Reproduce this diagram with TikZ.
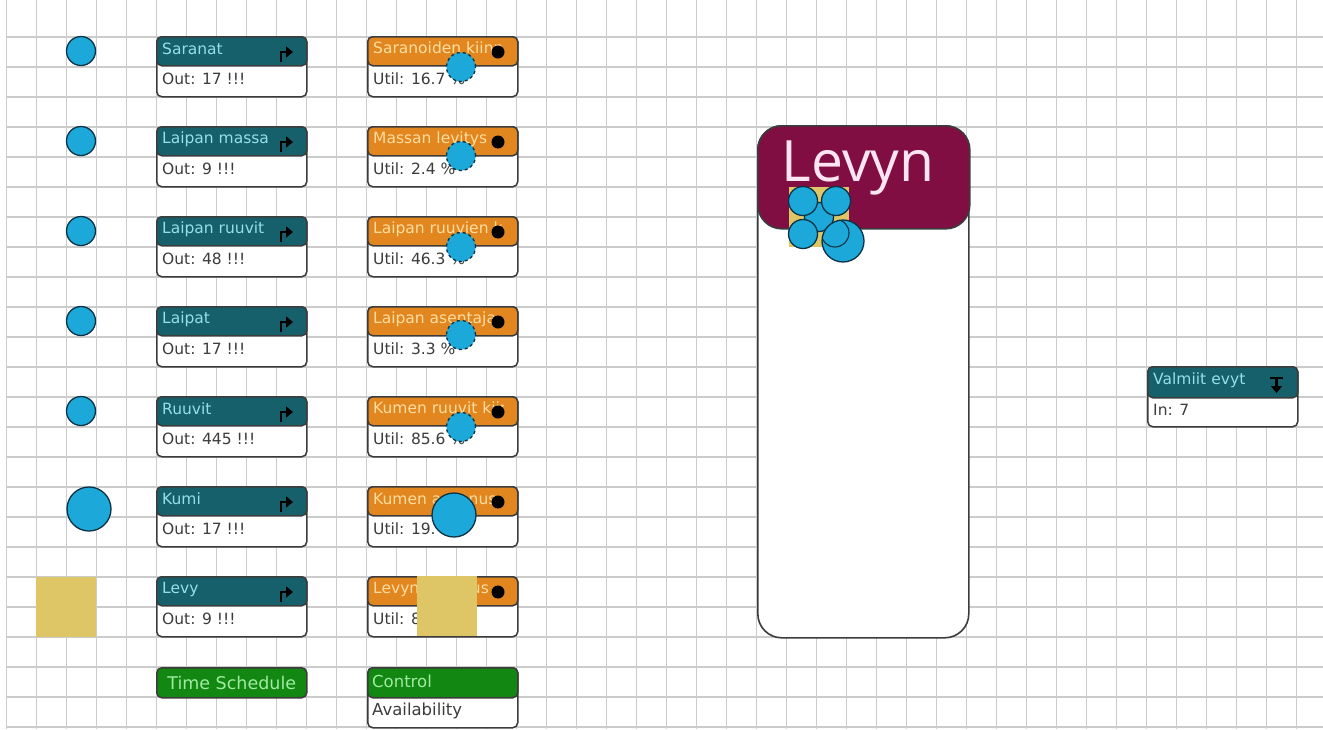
\documentclass[tikz,border=0pt]{standalone}
\usepackage{fontspec}
\setmainfont{DejaVu Sans}
\newfontfamily\bigfont{Open Sans}
\usetikzlibrary{arrows.meta}
\definecolor{gridc}{RGB}{204,204,204}
\definecolor{bordc}{RGB}{60,60,60}
\definecolor{tealc}{RGB}{22,96,108}
\definecolor{tealt}{RGB}{150,222,232}
\definecolor{orangec}{RGB}{226,134,32}
\definecolor{oranget}{RGB}{255,222,160}
\definecolor{greenc}{RGB}{18,136,18}
\definecolor{greent}{RGB}{160,235,160}
\definecolor{maroonc}{RGB}{128,14,66}
\definecolor{levynt}{RGB}{252,228,242}
\definecolor{tanc}{RGB}{222,198,102}
\definecolor{ballc}{RGB}{28,168,216}
\definecolor{balld}{RGB}{12,50,70}
\definecolor{bodyt}{RGB}{60,60,60}
\tikzset{
  gridline/.style={draw=gridc, line width=1.4},
  boxbody/.style={draw=bordc, line width=1.5, fill=white, rounded corners=5,
    minimum width=150, minimum height=60, anchor=north west, inner sep=0},
  hdr/.style={draw=bordc, line width=1.5, rounded corners=5,
    minimum width=150, minimum height=29, anchor=north west, inner sep=0},
  htext/.style={anchor=west, inner sep=0, font=\fontsize{15.5}{17}\selectfont},
  btext/.style={anchor=west, inner sep=0, text=bodyt, font=\fontsize{15.5}{17}\selectfont},
  icon/.style={draw=black, line width=2.8, -{Triangle[length=7,width=11]}},
  blackdot/.style={circle, fill=black, inner sep=0, minimum size=13},
  ball/.style={circle, fill=ballc, draw=balld, line width=1.3, inner sep=0, minimum size=29},
  dball/.style={ball, dashed},
  tansq/.style={fill=tanc, inner sep=0, minimum size=60, anchor=north west},
}
\newcommand\tealbox[5]{%
  \node[boxbody] (#1) at (#2,#3) {};
  \node[hdr, fill=tealc] (#1-h) at (#2,#3) {};
  \node[htext, text=tealt] (#1-t) at (#2+6,#3+13) {#4};
  \node[btext] (#1-b) at (#2+6,#3+43) {#5};
  \draw[icon] (#2+125,#3+26) -- (#2+125,#3+16) -- (#2+137,#3+16);
}
\newcommand\orangebox[5]{%
  \node[boxbody] (#1) at (#2,#3) {};
  \node[hdr, fill=orangec] (#1-h) at (#2,#3) {};
  \begin{scope}
    \clip (#2,#3) rectangle (#2+136,#3+29);
    \node[htext, text=oranget] (#1-t) at (#2+6,#3+13) {#4};
  \end{scope}
  \node[btext] (#1-b) at (#2+6,#3+43) {#5};
  \node[blackdot] (#1-d) at (#2+131,#3+16) {};
}
\begin{document}
\begin{tikzpicture}[x=1pt,y=-1pt]
\useasboundingbox (0,0) rectangle (1323,729);
\fill[white] (0,0) rectangle (1323,729);
% grid
\foreach \i in {0,...,43} \draw[gridline] (6.5+30*\i,0) -- (6.5+30*\i,729);
\foreach \j in {1,...,24} \draw[gridline] (6.5,7+30*\j) -- (1323,7+30*\j);

% left column items
\node[ball] (b1) at (81,51) {};
\node[ball] (b2) at (81,141) {};
\node[ball] (b3) at (81,231) {};
\node[ball] (b4) at (81,321) {};
\node[ball] (b5) at (81,411) {};
\node[ball, minimum size=44] (b6) at (89,509) {};
\node[tansq] (sq1) at (36,577) {};

% teal source boxes
\tealbox{saranat}{156}{36}{Saranat}{Out: 17 !!!}
\tealbox{massa}{156}{126}{Laipan massa}{Out: 9 !!!}
\tealbox{ruuvit1}{156}{216}{Laipan ruuvit}{Out: 48 !!!}
\tealbox{laipat}{156}{306}{Laipat}{Out: 17 !!!}
\tealbox{ruuvit}{156}{396}{Ruuvit}{Out: 445 !!!}
\tealbox{kumi}{156}{486}{Kumi}{Out: 17 !!!}
\tealbox{levy}{156}{576}{Levy}{Out: 9 !!!}

% time schedule
\node[hdr, fill=greenc, minimum height=30] (ts) at (156,667) {};
\node[anchor=center, inner sep=0, text=greent, font=\fontsize{17.5}{19}\selectfont] (ts-t) at (ts.center) {Time Schedule};

% orange activity boxes
\orangebox{o1}{367}{36}{Saranoiden kiinnitys}{Util: 16.7 \%}
\orangebox{o2}{367}{126}{Massan levitys}{Util: 2.4 \%}
\orangebox{o3}{367}{216}{Laipan ruuvien kiinnitys}{Util: 46.3 \%}
\orangebox{o4}{367}{306}{Laipan asentaja}{Util: 3.3 \%}
\orangebox{o5}{367}{396}{Kumen ruuvit kiinnitys}{Util: 85.6 \%}
\orangebox{o6}{367}{486}{Kumen asennus}{Util: 19.}
\orangebox{o7}{367}{576}{Levyn asennus}{Util: 8}

\node[dball] (c1) at (461,67) {};
\node[dball] (c2) at (461,156) {};
\node[dball] (c3) at (461,247) {};
\node[dball] (c4) at (461,335) {};
\node[dball] (c5) at (461,427) {};
\node[ball, minimum size=44] (c6) at (454,515) {};
\node[tansq] (sq2) at (417,576) {};

% control
\node[boxbody] (ctrl) at (367,667) {};
\node[hdr, fill=greenc, minimum height=30] (ctrl-h) at (367,667) {};
\node[htext, text=greent, font=\fontsize{16.5}{18}\selectfont] (ctrl-t) at (372,681) {Control};
\node[btext, font=\fontsize{16.5}{18}\selectfont] (ctrl-b) at (372,711) {Availability};

% Levyn big box
\node[draw=bordc, line width=1.6, fill=white, rounded corners=24, minimum width=211,
      minimum height=512, anchor=north west, inner sep=0] (levyn) at (757,125) {};
\node[draw=bordc, line width=1.6, fill=maroonc, rounded corners=24, minimum width=212,
      minimum height=103, anchor=north west, inner sep=0] (levyn-h) at (757,125) {};
\node[inner sep=0, text=levynt, font=\bigfont\fontsize{57}{60}\selectfont] (levyn-t) at (858,168) {Levyn};
\node[tansq] (sq3) at (789,187) {};
\node[ball] (l3) at (819,217) {};
\node[ball] (l1) at (803,201) {};
\node[ball] (l2) at (836,201) {};
\node[ball] (l4) at (803,234) {};
\node[ball, minimum size=42] (l5) at (843,241) {};
\begin{scope}
  \clip (843,241) circle[radius=20];
  \draw[balld, line width=1.1] (835,233) circle[radius=14];
\end{scope}

% Valmiit evyt sink
\node[boxbody] (valmiit) at (1147,366) {};
\node[hdr, fill=tealc, minimum height=31] (valmiit-h) at (1147,366) {};
\node[htext, text=tealt] (valmiit-t) at (1153,380) {Valmiit\,\,evyt};
\node[btext] (valmiit-b) at (1153,410) {In: 7};
\draw[black, line width=2.4] (1270,378) -- (1283,378);
\draw[icon] (1276.5,378) -- (1276.5,393);
\end{tikzpicture}
\end{document}
